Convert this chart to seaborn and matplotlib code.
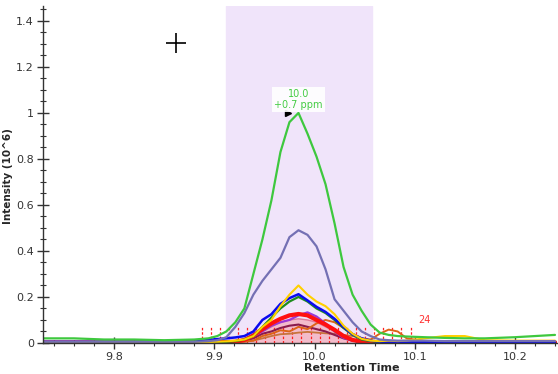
import numpy as np
import pandas as pd
import matplotlib
matplotlib.use("Agg")
import matplotlib.pyplot as plt
import matplotlib.ticker as mtick
import seaborn as sns

sns.set_style('white')
plt.rcParams['font.family'] = ['DejaVu Sans']

# retention time grid of the traces
rt = [9.73, 9.76, 9.79, 9.82, 9.85, 9.88, 9.894, 9.903, 9.912, 9.921, 9.930, 9.939,
      9.948, 9.957, 9.966, 9.975, 9.984, 9.993, 10.002, 10.011, 10.020, 10.029, 10.038,
      10.047, 10.056, 10.065, 10.074, 10.083, 10.092, 10.11, 10.13, 10.15, 10.17, 10.20, 10.24]

green = [0.02, 0.02, 0.015, 0.015, 0.012, 0.015, 0.02, 0.03, 0.05, 0.09, 0.15, 0.30,
         0.45, 0.62, 0.83, 0.96, 1.0, 0.91, 0.81, 0.69, 0.52, 0.33, 0.21,
         0.14, 0.08, 0.045, 0.035, 0.03, 0.028, 0.025, 0.022, 0.02, 0.02, 0.025, 0.035]
slate = [0.005, 0.005, 0.005, 0.005, 0.005, 0.005, 0.008, 0.012, 0.025, 0.07, 0.13, 0.21,
         0.27, 0.32, 0.37, 0.46, 0.49, 0.47, 0.42, 0.32, 0.19, 0.14, 0.09,
         0.05, 0.03, 0.015, 0.012, 0.01, 0.01, 0.01, 0.008, 0.008, 0.008, 0.008, 0.008]
yellow = [0.003, 0.003, 0.003, 0.003, 0.003, 0.003, 0.004, 0.005, 0.007, 0.01, 0.015, 0.03,
          0.07, 0.10, 0.16, 0.21, 0.25, 0.21, 0.18, 0.16, 0.125, 0.075, 0.04,
          0.018, 0.01, 0.008, 0.01, 0.008, 0.01, 0.02, 0.03, 0.03, 0.012, 0.01, 0.01]
blue = [0.005, 0.005, 0.005, 0.005, 0.005, 0.005, 0.013, 0.017, 0.02, 0.024, 0.03, 0.05,
        0.10, 0.125, 0.17, 0.195, 0.212, 0.185, 0.157, 0.135, 0.105, 0.07, 0.038,
        0.02, 0.01, 0.006, 0.005, 0.005, 0.005, 0.005, 0.005, 0.005, 0.005, 0.005, 0.005]
dkgreen = [0.003, 0.003, 0.003, 0.003, 0.003, 0.003, 0.003, 0.004, 0.005, 0.008, 0.015, 0.03,
           0.07, 0.11, 0.15, 0.18, 0.20, 0.18, 0.15, 0.13, 0.10, 0.065, 0.035,
           0.015, 0.008, 0.004, 0.004, 0.004, 0.004, 0.004, 0.004, 0.004, 0.004, 0.004, 0.004]
red = [0.002, 0.002, 0.002, 0.002, 0.002, 0.002, 0.002, 0.003, 0.004, 0.005, 0.013, 0.033,
       0.06, 0.085, 0.105, 0.12, 0.126, 0.12, 0.10, 0.08, 0.057, 0.03, 0.013,
       0.006, 0.003, 0.003, 0.003, 0.003, 0.003, 0.003, 0.003, 0.003, 0.003, 0.003, 0.003]
violet = [0.002, 0.002, 0.002, 0.002, 0.002, 0.002, 0.002, 0.003, 0.004, 0.006, 0.012, 0.03,
          0.05, 0.075, 0.09, 0.10, 0.12, 0.133, 0.115, 0.085, 0.05, 0.022, 0.01,
          0.005, 0.003, 0.003, 0.003, 0.003, 0.003, 0.003, 0.003, 0.003, 0.003, 0.003, 0.003]
maroon = [0.002, 0.002, 0.002, 0.002, 0.002, 0.002, 0.002, 0.003, 0.004, 0.006, 0.01, 0.02,
          0.04, 0.05, 0.065, 0.075, 0.08, 0.07, 0.06, 0.05, 0.035, 0.02, 0.01,
          0.005, 0.003, 0.003, 0.003, 0.003, 0.003, 0.003, 0.003, 0.003, 0.003, 0.003, 0.003]
orange = [0.002, 0.002, 0.002, 0.002, 0.002, 0.002, 0.002, 0.003, 0.004, 0.005, 0.006, 0.01,
          0.03, 0.04, 0.055, 0.05, 0.07, 0.06, 0.085, 0.10, 0.09, 0.065, 0.04,
          0.02, 0.015, 0.04, 0.058, 0.05, 0.02, 0.008, 0.004, 0.003, 0.003, 0.003, 0.003]
sienna = [0.002, 0.002, 0.002, 0.002, 0.002, 0.002, 0.002, 0.003, 0.004, 0.005, 0.006, 0.01,
          0.02, 0.03, 0.038, 0.04, 0.045, 0.048, 0.045, 0.042, 0.04, 0.035, 0.03,
          0.02, 0.01, 0.005, 0.003, 0.003, 0.003, 0.003, 0.003, 0.003, 0.003, 0.003, 0.003]
pink = [0.0, 0.0, 0.0, 0.0, 0.0, 0.0, 0.0, 0.0, 0.0, 0.003, 0.01, 0.03,
        0.05, 0.07, 0.09, 0.10, 0.105, 0.10, 0.09, 0.07, 0.05, 0.03, 0.015,
        0.005, 0.0, 0.0, 0.0, 0.0, 0.0, 0.0, 0.0, 0.0, 0.0, 0.0, 0.0]

# scan markers (24 dashed lines)
scans = [9.888, 9.897, 9.906, 9.915, 9.924, 9.933, 9.942, 9.951, 9.960, 9.969, 9.978, 9.987,
         9.996, 10.005, 10.014, 10.023, 10.032, 10.041, 10.050, 10.059, 10.068, 10.077, 10.086, 10.096]
scan_height = 0.075
window = (9.912, 10.057)
apex_rt, apex_int = 9.984, 1.0

traces = {
    'sienna': (sienna, '#c8743c', 1.3),
    'maroon': (maroon, '#8b1c4c', 1.5),
    'orange': (orange, '#dd6418', 1.4),
    'violet': (violet, '#9a38d6', 1.6),
    'red': (red, '#ff1010', 3.0),
    'dkgreen': (dkgreen, '#1e8c1e', 1.6),
    'blue': (blue, '#0a0af0', 1.8),
    'yellow': (yellow, '#ffd000', 1.5),
    'slate': (slate, '#7470b4', 1.6),
    'green': (green, '#3ec83e', 1.6),
}

fig = plt.figure(figsize=(5.58, 3.74), dpi=100)
ax = fig.add_axes([0.077, 0.083, 0.923, 0.901])

ax.axvspan(*window, color='#f0e4fa', zorder=0)

ax.fill_between(rt, pink, color='#f3bccb', zorder=1)
ax.plot(rt, pink, color='#e07a98', lw=1.0, zorder=1)

ax.vlines(scans, 0, scan_height, colors='#ff2020', linestyles=(0, (2, 1.5)), lw=0.9, zorder=1.5)

for name, (vals, col, lw) in traces.items():
    df = pd.DataFrame({'rt': rt, 'intensity': vals})
    sns.lineplot(data=df, x='rt', y='intensity', color=col, lw=lw, ax=ax,
                 estimator=None, sort=False, zorder=2)

ax.text(10.11, 0.10, str(len(scans)), color='#ff3030', fontsize=7, ha='center', va='center')

# apex label
ax.plot([apex_rt - 0.01], [apex_int], marker='>', color='black', ms=5, zorder=4)
ax.text(apex_rt, apex_int + 0.06, '10.0\n+0.7 ppm', color='#44cc44', fontsize=7,
        ha='center', va='center', linespacing=1.1,
        bbox=dict(facecolor='white', edgecolor='none', pad=1.5, alpha=0.9), zorder=5)

# cursor
ax.plot([9.862], [1.304], marker='+', color='black', ms=14, mew=1.2, zorder=5)

ax.set_xlim(9.729, 10.243)
ax.set_ylim(0, 1.465)
ax.xaxis.set_major_locator(mtick.MultipleLocator(0.1))
ax.xaxis.set_minor_locator(mtick.MultipleLocator(0.02))
ax.xaxis.set_major_formatter(mtick.FormatStrFormatter('%.1f'))
ax.yaxis.set_major_locator(mtick.MultipleLocator(0.2))
ax.yaxis.set_minor_locator(mtick.MultipleLocator(0.05))
ax.yaxis.set_major_formatter(mtick.FormatStrFormatter('%g'))

ax.tick_params(axis='both', which='major', direction='inout', length=9, width=1,
               color='#333333', labelsize=8, labelcolor='#333333', pad=2)
ax.tick_params(axis='both', which='minor', direction='inout', length=4, width=0.8, color='#333333')
ax.tick_params(axis='y', which='both', left=True)
ax.tick_params(axis='x', which='both', bottom=True)

for s in ['top', 'right']:
    ax.spines[s].set_visible(False)
for s in ['left', 'bottom']:
    ax.spines[s].set_color('#333333')
    ax.spines[s].set_linewidth(1)

ax.set_xlabel('')
ax.set_ylabel('')
fig.text(0.014, 0.53, 'Intensity (10^6)', rotation=90, fontsize=7.5, fontweight='bold',
         ha='center', va='center')
fig.text(0.63, 0.002, 'Retention Time', fontsize=8, fontweight='bold', ha='center', va='bottom')

fig.savefig('out.png', dpi=100)
